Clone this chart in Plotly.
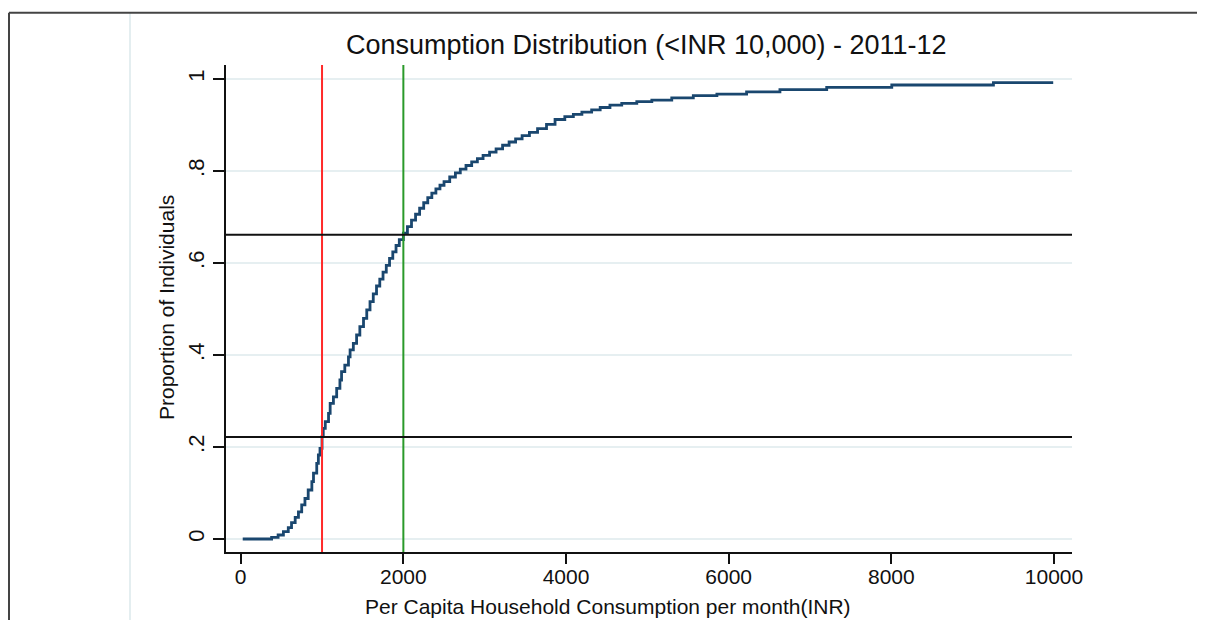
import plotly.graph_objects as go

# ---- data ----
inr = [25, 380, 460, 525, 585, 625, 670, 710, 750, 790, 830, 875, 895, 935, 955, 975,
       1000, 1015, 1040, 1080, 1100, 1140, 1180, 1220, 1240, 1280, 1325, 1345, 1385,
       1425, 1465, 1510, 1550, 1590, 1630, 1670, 1710, 1750, 1790, 1830, 1870, 1910,
       1950, 2000, 2050, 2100, 2150, 2200, 2250, 2300, 2350, 2400, 2450, 2500, 2570,
       2640, 2700, 2770, 2840, 2910, 2980, 3060, 3140, 3220, 3300, 3380, 3460, 3550,
       3650, 3760, 3865, 3985, 4090, 4195, 4315, 4420, 4540, 4685, 4870, 5055, 5300,
       5565, 5855, 6220, 6630, 7205, 8005, 9255, 9990]
proportion = [0.0, 0.0036, 0.0087, 0.016, 0.0246, 0.0355, 0.047, 0.059, 0.074, 0.088,
              0.1065, 0.1246, 0.143, 0.1645, 0.1826, 0.197, 0.2225, 0.2406, 0.255,
              0.273, 0.295, 0.309, 0.3275, 0.3457, 0.3638, 0.378, 0.396, 0.411, 0.4254,
              0.4435, 0.4616, 0.4797, 0.498, 0.516, 0.533, 0.550, 0.565, 0.580, 0.595,
              0.610, 0.624, 0.638, 0.651, 0.665, 0.679, 0.693, 0.706, 0.719, 0.731,
              0.742, 0.752, 0.761, 0.769, 0.777, 0.787, 0.796, 0.804, 0.812, 0.820,
              0.827, 0.834, 0.841, 0.848, 0.856, 0.863, 0.870, 0.877, 0.884, 0.892,
              0.9015, 0.912, 0.918, 0.923, 0.928, 0.933, 0.938, 0.943, 0.947, 0.951,
              0.954, 0.959, 0.964, 0.967, 0.972, 0.977, 0.982, 0.987, 0.992, 0.992]

vlines = [(1000, "#ff2a2a"), (2000, "#2a9a2a")]
hlines = [0.2217, 0.6615]

y_ticks = [0, 0.2, 0.4, 0.6, 0.8, 1]
y_tick_labels = ["0", ".2", ".4", ".6", ".8", "1"]
x_ticks = [0, 2000, 4000, 6000, 8000, 10000]
x_tick_labels = ["0", "2000", "4000", "6000", "8000", "10000"]

title_text = "Consumption Distribution (<INR 10,000) - 2011-12"
x_title = "Per Capita Household Consumption per month(INR)"
y_title = "Proportion of Individuals"

FONT = "Liberation Sans, Arial, sans-serif"

fig = go.Figure()
fig.add_trace(go.Scatter(x=inr, y=proportion, mode="lines",
                         line=dict(color="#1a476f", width=2.8, shape="hv"),
                         showlegend=False, hoverinfo="skip"))

shapes = []
for xv, col in vlines:
    shapes.append(dict(type="line", xref="x", yref="paper", x0=xv, x1=xv, y0=0, y1=1,
                       line=dict(color=col, width=2)))
for yv in hlines:
    shapes.append(dict(type="line", xref="paper", yref="y", x0=0, x1=1, y0=yv, y1=yv,
                       line=dict(color="#111111", width=2)))

# plot area in window pixels: x 226..1072, y 65..552
def px_x(p):
    return (p - 226) / 846.0

def px_y(p):
    return (552 - p) / 487.0

# light divider and outer frame (top + left edges only)
shapes.append(dict(type="line", xref="paper", yref="paper", x0=px_x(130), x1=px_x(130),
                   y0=px_y(13), y1=px_y(640), line=dict(color="#e4eef0", width=2), layer="below"))
shapes.append(dict(type="line", xref="paper", yref="paper", x0=px_x(9), x1=px_x(1210),
                   y0=px_y(12.7), y1=px_y(12.7), line=dict(color="#444444", width=2),
                   layer="below"))
shapes.append(dict(type="line", xref="paper", yref="paper", x0=px_x(9), x1=px_x(9),
                   y0=px_y(12.7), y1=px_y(640), line=dict(color="#444444", width=2),
                   layer="below"))

annotations = [
    dict(text=title_text, xref="paper", yref="paper", x=px_x(646), y=px_y(45),
         showarrow=False, xanchor="center", yanchor="middle",
         font=dict(family=FONT, size=27, color="#111111")),
    dict(text=x_title, xref="paper", yref="paper", x=px_x(607.5), y=px_y(606.7),
         showarrow=False, xanchor="center", yanchor="middle",
         font=dict(family=FONT, size=21, color="#111111")),
    dict(text=y_title, xref="paper", yref="paper", x=px_x(166), y=px_y(308),
         showarrow=False, xanchor="center", yanchor="middle", textangle=-90,
         font=dict(family=FONT, size=21, color="#111111")),
]

# page body has an 8px offset: figure origin sits at window (8, 8)
fig.update_layout(
    width=1189, height=612,
    margin=dict(l=218, r=125, t=57, b=68),
    paper_bgcolor="white", plot_bgcolor="white",
    shapes=shapes, annotations=annotations,
    xaxis=dict(range=[-180.7, 10221], tickvals=x_ticks, ticktext=x_tick_labels,
               showgrid=False, zeroline=False, showline=True, linecolor="#111111",
               linewidth=2, ticks="outside", ticklen=10, tickwidth=2, tickcolor="#111111",
               ticklabelstandoff=-5,
               tickfont=dict(family=FONT, size=21, color="#111111")),
    yaxis=dict(range=[-0.02826, 1.03043], tickvals=y_ticks, ticktext=y_tick_labels,
               showgrid=True, gridcolor="#e6eff1", gridwidth=1.5, zeroline=False,
               showline=True, linecolor="#111111", linewidth=2, ticks="outside",
               ticklen=11, tickwidth=2, tickcolor="#111111", tickangle=-90,
               tickfont=dict(family=FONT, size=22, color="#111111")),
)

fig.write_html("out.html")
